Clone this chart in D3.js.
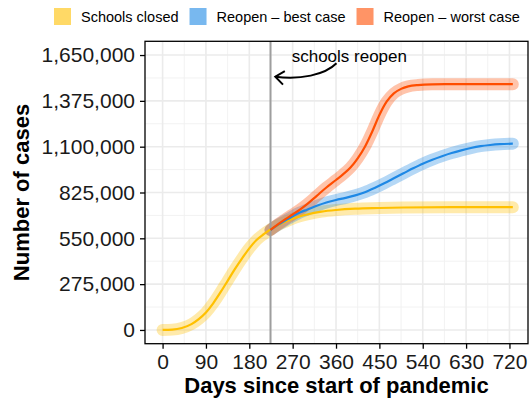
<!DOCTYPE html>
<html><head><meta charset="utf-8">
<script src="https://cdn.jsdelivr.net/npm/d3@7"></script>
<style>
body{margin:0;background:#fff}
svg{display:block;background:#fff}
text{font-family:"Liberation Sans",Arial,Helvetica,sans-serif}
</style>
</head><body>
<svg id="chart" width="529" height="402"></svg>
<script>
// ---------- data ----------
const seriesNames = ["Schools closed", "Reopen \u2013 best case", "Reopen \u2013 worst case"];
const seriesColors = ["#FFC000", "#1E88E5", "#FF4D00"];

const closedDays   = [0, 20, 40, 60, 75, 90, 105, 120, 135, 150, 165, 180, 195, 210, 225, 240, 255, 270, 300, 330, 360, 400, 450, 500, 600, 727];
const closedValues = [0, 2000, 12000, 35000, 65000, 105000, 160000, 225000, 295000, 365000, 430000, 490000, 540000, 575000, 605000, 630000, 650000, 668000, 693000, 710000, 720000, 728000, 732000, 735000, 737000, 737000];

const bestDays   = [224, 240, 255, 270, 285, 300, 320, 340, 360, 380, 400, 420, 440, 460, 480, 500, 520, 540, 560, 580, 600, 620, 640, 660, 680, 700, 727];
const bestValues = [600000, 632000, 658000, 683000, 705000, 722000, 745000, 765000, 780000, 793000, 808000, 827000, 852000, 880000, 910000, 940000, 970000, 998000, 1022000, 1043000, 1062000, 1078000, 1092000, 1103000, 1110000, 1115000, 1118000];

const worstDays   = [224, 240, 255, 270, 285, 300, 320, 340, 360, 375, 390, 405, 420, 435, 450, 465, 480, 495, 510, 530, 560, 600, 727];
const worstValues = [600000, 635000, 665000, 693000, 722000, 755000, 805000, 855000, 900000, 935000, 975000, 1030000, 1100000, 1190000, 1290000, 1370000, 1420000, 1447000, 1462000, 1470000, 1474000, 1475000, 1475000];

const xTicks = [0, 90, 180, 270, 360, 450, 540, 630, 720];
const yTicks = [0, 275000, 550000, 825000, 1100000, 1375000, 1650000];
const xMinor = [45, 135, 225, 315, 405, 495, 585, 675];
const yMinor = [137500, 412500, 687500, 962500, 1237500, 1512500];

const reopenDay = 224;
const annotationLabel = "schools reopen";
const annotationAt = [268, 1611000];      // [day, value] of text start (baseline)
const arrowFrom = [361, 1600500];         // [day, value]
const arrowTo   = [234, 1520000];         // [day, value]

const xTitle = "Days since start of pandemic";
const yTitle = "Number of cases";

// ---------- layout ----------
const svg = d3.select("#chart");
const panel = {left: 145, right: 528, top: 41.3, bottom: 343.7};

const x = d3.scaleLinear().domain([-36.5, 758.5]).range([panel.left, panel.right]);
const y = d3.scaleLinear().domain([-82500, 1732500]).range([panel.bottom, panel.top]);

// grid
const grid = svg.append("g");
grid.selectAll(".vmin").data(xMinor).join("line")
  .attr("x1", d => x(d)).attr("x2", d => x(d))
  .attr("y1", panel.top).attr("y2", panel.bottom)
  .attr("stroke", "#F0F0F0").attr("stroke-width", 0.9);
grid.selectAll(".hmin").data(yMinor).join("line")
  .attr("y1", d => y(d)).attr("y2", d => y(d))
  .attr("x1", panel.left).attr("x2", panel.right)
  .attr("stroke", "#F0F0F0").attr("stroke-width", 0.9);
grid.selectAll(".vmaj").data(xTicks).join("line")
  .attr("x1", d => x(d)).attr("x2", d => x(d))
  .attr("y1", panel.top).attr("y2", panel.bottom)
  .attr("stroke", "#EBEBEB").attr("stroke-width", 1.6);
grid.selectAll(".hmaj").data(yTicks).join("line")
  .attr("y1", d => y(d)).attr("y2", d => y(d))
  .attr("x1", panel.left).attr("x2", panel.right)
  .attr("stroke", "#EBEBEB").attr("stroke-width", 1.6);

// series
const series = [
  {days: closedDays, values: closedValues, color: seriesColors[0]},
  {days: bestDays, values: bestValues, color: seriesColors[1]},
  {days: worstDays, values: worstValues, color: seriesColors[2]}
];
const line = d3.line().x(d => x(d[0])).y(d => y(d[1])).curve(d3.curveMonotoneX);

const bands = svg.append("g");
series.forEach(s => {
  const pts = s.days.map((d, i) => [d, s.values[i]]);
  bands.append("path").attr("d", line(pts))
    .attr("fill", "none").attr("stroke", s.color)
    .attr("stroke-opacity", 0.33).attr("stroke-width", 12)
    .attr("stroke-linecap", "round").attr("stroke-linejoin", "round");
});

// reopen line
svg.append("line")
  .attr("x1", x(reopenDay)).attr("x2", x(reopenDay))
  .attr("y1", panel.top).attr("y2", panel.bottom)
  .attr("stroke", "#9E9E9E").attr("stroke-width", 2);

const thin = svg.append("g");
series.forEach(s => {
  const pts = s.days.map((d, i) => [d, s.values[i]]);
  thin.append("path").attr("d", line(pts))
    .attr("fill", "none").attr("stroke", s.color)
    .attr("stroke-width", 2.2).attr("stroke-linecap", "butt");
});

// annotation
svg.append("text")
  .attr("x", x(annotationAt[0])).attr("y", y(annotationAt[1]))
  .attr("font-size", 17).attr("fill", "#000")
  .text(annotationLabel);

const sx = x(arrowFrom[0]), sy = y(arrowFrom[1]);
const ex = x(arrowTo[0]), ey = y(arrowTo[1]);
const adx = ex - sx, ady = ey - sy;
const c1 = [sx + 0.19 * adx, sy + 0.87 * ady];
const c2 = [sx + 0.60 * adx, sy + 1.25 * ady];
const arrowPath = d3.path();
arrowPath.moveTo(sx, sy);
arrowPath.bezierCurveTo(c1[0], c1[1], c2[0], c2[1], ex, ey);
svg.append("path").attr("d", arrowPath.toString())
  .attr("fill", "none").attr("stroke", "#000").attr("stroke-width", 2);
const ang = Math.atan2(c2[1] - ey, c2[0] - ex);
const half = 38 * Math.PI / 180, alen = 11;
const head = d3.path();
head.moveTo(ex + alen * Math.cos(ang - half), ey + alen * Math.sin(ang - half));
head.lineTo(ex, ey);
head.lineTo(ex + alen * Math.cos(ang + half), ey + alen * Math.sin(ang + half));
svg.append("path").attr("d", head.toString())
  .attr("fill", "none").attr("stroke", "#000").attr("stroke-width", 2)
  .attr("stroke-linejoin", "miter").attr("stroke-linecap", "butt");

// panel border
svg.append("rect")
  .attr("x", panel.left).attr("y", panel.top)
  .attr("width", panel.right - panel.left).attr("height", panel.bottom - panel.top)
  .attr("fill", "none").attr("stroke", "#000").attr("stroke-width", 1.3);

// axes
const yAxis = svg.append("g").attr("transform", `translate(${panel.left},0)`)
  .call(d3.axisLeft(y).tickValues(yTicks).tickFormat(d3.format(",")).tickSize(5).tickPadding(5));
const xAxis = svg.append("g").attr("transform", `translate(0,${panel.bottom})`)
  .call(d3.axisBottom(x).tickValues(xTicks).tickFormat(d3.format("d")).tickSize(5).tickPadding(5));
[yAxis, xAxis].forEach(a => {
  a.select(".domain").remove();
  a.selectAll(".tick line").attr("stroke", "#000").attr("stroke-width", 1.3);
  a.selectAll(".tick text").attr("fill", "#1A1A1A").attr("font-size", 21)
    .attr("font-family", "'Liberation Sans',Arial,Helvetica,sans-serif");
});

// titles
svg.append("text")
  .attr("x", (panel.left + panel.right) / 2).attr("y", 393)
  .attr("text-anchor", "middle").attr("font-size", 22).attr("font-weight", "bold")
  .text(xTitle);
svg.append("text")
  .attr("transform", `translate(28.5,${(panel.top + panel.bottom) / 2}) rotate(-90)`)
  .attr("text-anchor", "middle").attr("font-size", 22).attr("font-weight", "bold")
  .text(yTitle);

// legend
const legend = svg.append("g");
let lx = 54;
seriesNames.forEach((name, i) => {
  legend.append("rect").attr("x", lx).attr("y", 8).attr("width", 17).attr("height", 17)
    .attr("fill", seriesColors[i]).attr("fill-opacity", 0.6);
  const t = legend.append("text").attr("x", lx + 27).attr("y", 22)
    .attr("font-size", 14.5).attr("fill", "#000").text(name);
  lx += 27 + t.node().getComputedTextLength() + 11;
});
</script>
</body></html>
